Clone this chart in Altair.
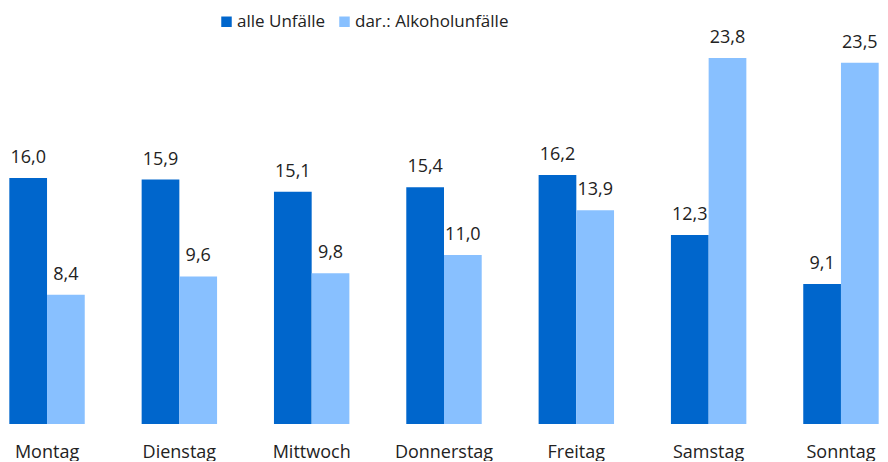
import altair as alt
import pandas as pd

days = ["Montag", "Dienstag", "Mittwoch", "Donnerstag", "Freitag", "Samstag", "Sonntag"]
alle = [16.0, 15.9, 15.1, 15.4, 16.2, 12.3, 9.1]
alkohol = [8.4, 9.6, 9.8, 11.0, 13.9, 23.8, 23.5]
series = ["alle Unfälle", "dar.: Alkoholunfälle"]
colors = ["#0066CC", "#88C0FF"]

rows = []
for d, a, k in zip(days, alle, alkohol):
    rows.append({"day": d, "series": series[0], "value": a})
    rows.append({"day": d, "series": series[1], "value": k})
df = pd.DataFrame(rows)
df["label"] = df["value"].map(lambda v: f"{v:.1f}".replace(".", ","))

FONT = "Open Sans"

x = alt.X("day:N", sort=days, title=None,
          scale=alt.Scale(paddingInner=0.43, paddingOuter=0.01),
          axis=alt.Axis(labelAngle=0, domain=False, ticks=False, labelPadding=33,
                        labelBaseline="alphabetic",
                        labelFontSize=18, labelFont=FONT, labelColor="#222222"))
xo = alt.XOffset("series:N", sort=series, scale=alt.Scale(paddingInner=0, paddingOuter=0))
y = alt.Y("value:Q", title=None, scale=alt.Scale(domain=[0, 27.06], nice=False, zero=True),
          axis=None)

bars = alt.Chart(df).mark_bar().encode(
    x=x, xOffset=xo, y=y,
    color=alt.Color("series:N", sort=series,
                    scale=alt.Scale(domain=series, range=colors),
                    legend=alt.Legend(title=None, orient="none", legendX=210, legendY=5,
                                      direction="horizontal", symbolType="square",
                                      symbolSize=110, symbolStrokeWidth=0,
                                      labelFont=FONT, labelFontSize=17, labelColor="#222222",
                                      labelOffset=2, columnPadding=10)),
)

text = alt.Chart(df).mark_text(baseline="alphabetic", dy=-15, fontSize=18, font=FONT,
                               color="#222222").encode(
    x=x, xOffset=xo, y=y, text="label:N"
)

chart = (bars + text).properties(
    width=872, height=416,
    padding={"left": 0, "top": 0, "right": 0, "bottom": 0},
).configure_view(stroke=None, strokeWidth=0)

chart.save("out.html", embed_options={"renderer": "svg", "actions": False})
